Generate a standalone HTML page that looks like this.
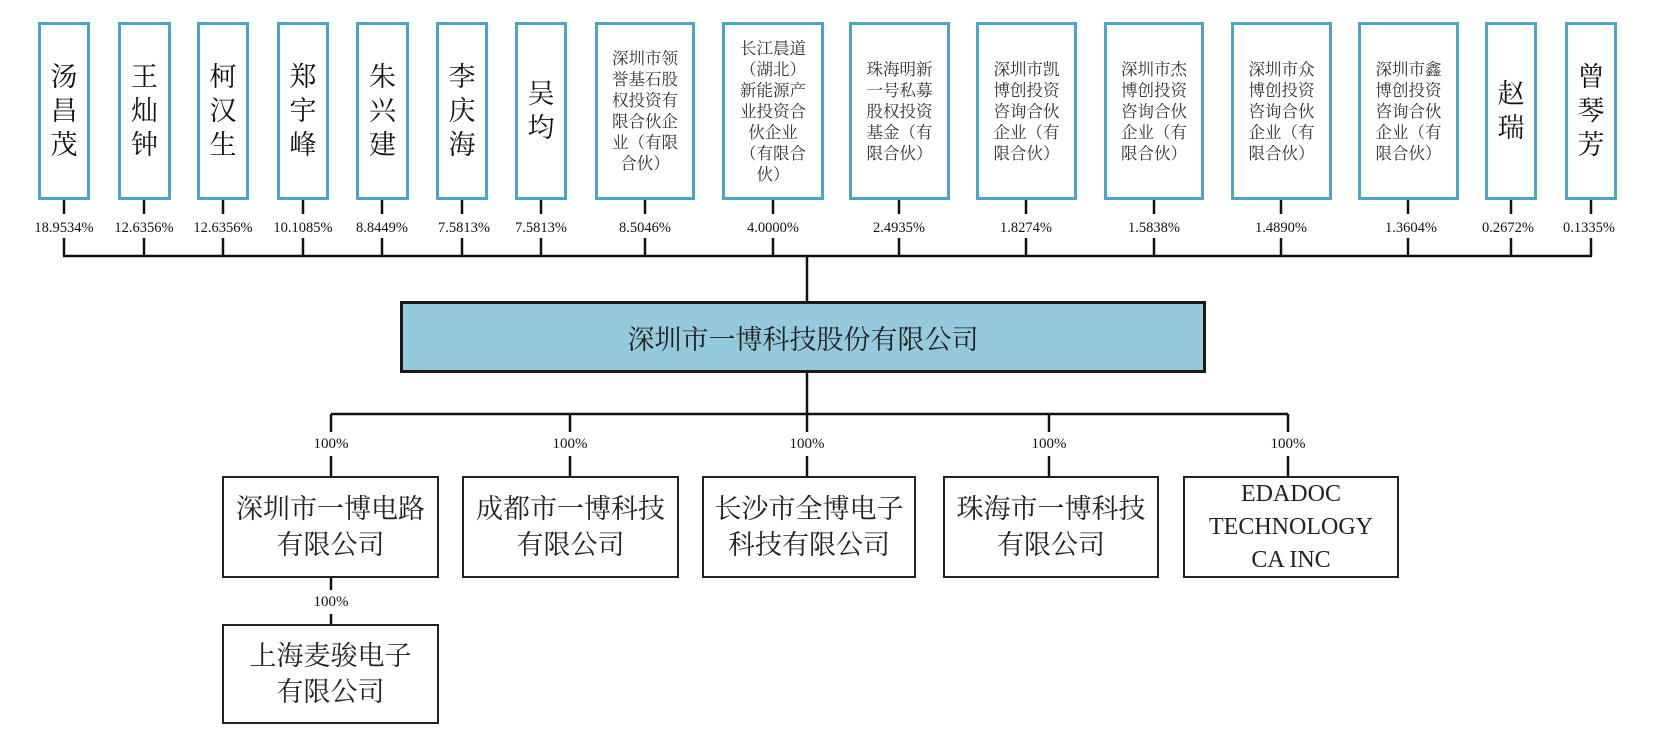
<!DOCTYPE html>
<html><head><meta charset="utf-8">
<style>
html,body{margin:0;padding:0;background:#fff;}
body{width:1660px;height:753px;position:relative;overflow:hidden;font-family:"Liberation Serif","Noto Serif CJK SC",serif;color:#111;}
.t{position:absolute;top:22px;height:178px;box-sizing:border-box;border:3px solid #4ba5c4;display:flex;align-items:center;justify-content:center;text-align:center;}
.big{font-size:27px;line-height:34px;width:30px;word-break:break-all;}
.sm{font-size:16.5px;line-height:21px;color:#333;width:72px;}
.p{position:absolute;top:219px;font-size:14.5px;width:100px;margin-left:-50px;text-align:center;line-height:18px;}
.c{position:absolute;top:476px;height:102px;box-sizing:border-box;border:2px solid #222;display:flex;align-items:center;justify-content:center;text-align:center;font-size:27px;line-height:36px;color:#222;}
.l{position:absolute;font-size:15px;width:80px;margin-left:-40px;text-align:center;line-height:18px;}
</style></head><body>
<svg width="1660" height="753" style="position:absolute;left:0;top:0" stroke="#111" stroke-width="2.5" fill="none">
<path d="M64 200V214M64 238V256M144 200V214M144 238V256M223 200V214M223 238V256M303 200V214M303 238V256M382 200V214M382 238V256M462 200V214M462 238V256M541 200V214M541 238V256M645 200V214M645 238V256M773 200V214M773 238V256M899 200V214M899 238V256M1026 200V214M1026 238V256M1154 200V214M1154 238V256M1281 200V214M1281 238V256M1408 200V214M1408 238V256M1511 200V214M1511 238V256M1591 200V214M1591 238V256"/>
<path d="M63 256H1592M807 256V301M807 373V414M331 414H1288"/>
<path d="M331 414V432M331 456V476M570 414V432M570 456V476M807 414V432M807 456V476M1049 414V432M1049 456V476M1288 414V432M1288 456V476M331 578V590M331 614V624"/>
</svg>
<div class="t" style="left:38px;width:52px"><div class="big">汤昌茂</div></div>
<div class="t" style="left:118px;width:53px"><div class="big">王灿钟</div></div>
<div class="t" style="left:197px;width:52px"><div class="big">柯汉生</div></div>
<div class="t" style="left:277px;width:52px"><div class="big">郑宇峰</div></div>
<div class="t" style="left:356px;width:53px"><div class="big">朱兴建</div></div>
<div class="t" style="left:436px;width:52px"><div class="big">李庆海</div></div>
<div class="t" style="left:515px;width:52px"><div class="big">吴均</div></div>
<div class="t" style="left:595px;width:100px"><div class="sm">深圳市领誉基石股权投资有限合伙企业（有限合伙）</div></div>
<div class="t" style="left:722px;width:102px"><div class="sm">长江晨道（湖北）新能源产业投资合伙企业（有限合伙）</div></div>
<div class="t" style="left:849px;width:101px"><div class="sm">珠海明新一号私募股权投资基金（有限合伙）</div></div>
<div class="t" style="left:976px;width:101px"><div class="sm">深圳市凯博创投资咨询合伙企业（有限合伙）</div></div>
<div class="t" style="left:1104px;width:100px"><div class="sm">深圳市杰博创投资咨询合伙企业（有限合伙）</div></div>
<div class="t" style="left:1231px;width:101px"><div class="sm">深圳市众博创投资咨询合伙企业（有限合伙）</div></div>
<div class="t" style="left:1358px;width:101px"><div class="sm">深圳市鑫博创投资咨询合伙企业（有限合伙）</div></div>
<div class="t" style="left:1485px;width:52px"><div class="big">赵瑞</div></div>
<div class="t" style="left:1565px;width:52px"><div class="big">曾琴芳</div></div>
<div class="p" style="left:64px">18.9534%</div>
<div class="p" style="left:144px">12.6356%</div>
<div class="p" style="left:223px">12.6356%</div>
<div class="p" style="left:303px">10.1085%</div>
<div class="p" style="left:382px">8.8449%</div>
<div class="p" style="left:464px">7.5813%</div>
<div class="p" style="left:541px">7.5813%</div>
<div class="p" style="left:645px">8.5046%</div>
<div class="p" style="left:773px">4.0000%</div>
<div class="p" style="left:899px">2.4935%</div>
<div class="p" style="left:1026px">1.8274%</div>
<div class="p" style="left:1154px">1.5838%</div>
<div class="p" style="left:1281px">1.4890%</div>
<div class="p" style="left:1411px">1.3604%</div>
<div class="p" style="left:1508px">0.2672%</div>
<div class="p" style="left:1589px">0.1335%</div>
<div style="position:absolute;left:400px;top:301px;width:806px;height:72px;box-sizing:border-box;border:3px solid #1a1a1a;background:#94cadb;display:flex;align-items:center;justify-content:center;font-size:27px;color:#222;">深圳市一博科技股份有限公司</div>
<div class="l" style="left:331px;top:435px">100%</div>
<div class="l" style="left:570px;top:435px">100%</div>
<div class="l" style="left:807px;top:435px">100%</div>
<div class="l" style="left:1049px;top:435px">100%</div>
<div class="l" style="left:1288px;top:435px">100%</div>
<div class="l" style="left:331px;top:593px">100%</div>
<div class="c" style="left:222px;width:217px">深圳市一博电路<br>有限公司</div>
<div class="c" style="left:462px;width:217px">成都市一博科技<br>有限公司</div>
<div class="c" style="left:702px;width:214px">长沙市全博电子<br>科技有限公司</div>
<div class="c" style="left:943px;width:216px">珠海市一博科技<br>有限公司</div>
<div class="c" style="left:1183px;width:216px;font-size:24px;line-height:33px">EDADOC<br>TECHNOLOGY<br>CA INC</div>
<div class="c" style="left:222px;width:217px;top:624px;height:100px">上海麦骏电子<br>有限公司</div>
</body></html>
